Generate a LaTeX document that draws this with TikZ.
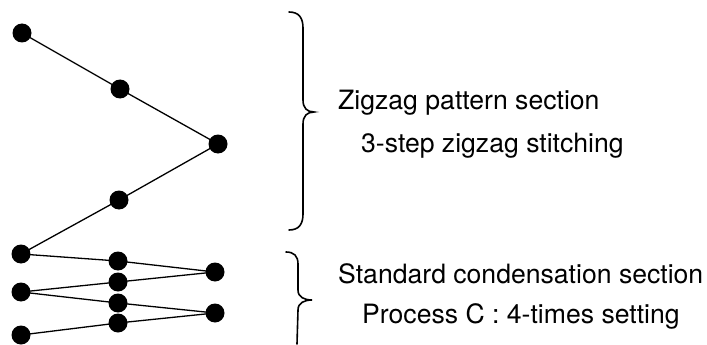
\documentclass[tikz,border=0pt]{standalone}
\usepackage{fontspec}
\setmainfont{TeX Gyre Heros}
\usetikzlibrary{positioning}

\begin{document}
\begin{tikzpicture}[x=1pt, y=-1pt,
    dot/.style={circle, fill=black, inner sep=0pt, minimum size=19pt},
    caption/.style={anchor=base west, inner sep=0pt, font=\fontsize{26.6}{32}\selectfont},
    stitch/.style={line width=1.3pt},
    bracket/.style={line width=1.6pt, line cap=round}]
    \useasboundingbox (0,0) rectangle (707,345);
    % Nodes (zigzag section)
    \node (z1) [dot] at (22,33) {};
    \node (z2) [dot] at (120,89) {};
    \node (z3) [dot] at (218,144) {};
    \node (z4) [dot] at (119,200) {};
    % Nodes (condensation section)
    \node (c1) [dot] at (21,254) {};
    \node (c2) [dot] at (118,261) {};
    \node (c3) [dot] at (215,272) {};
    \node (c4) [dot] at (118,282) {};
    \node (c5) [dot] at (21,292) {};
    \node (c6) [dot] at (118,303) {};
    \node (c7) [dot] at (215,313) {};
    \node (c8) [dot] at (118,323) {};
    \node (c9) [dot] at (21,335) {};

    % Stitches
    \draw [stitch] (z1.center) -- (z2.center) -- (z3.center) -- (z4.center) -- (c1.center);
    \draw [stitch] (c1.center) -- (c2.center) -- (c3.center) -- (c4.center) -- (c5.center)
        -- (c6.center) -- (c7.center) -- (c8.center) -- (c9.center);

    % Braces
    \draw [bracket] (289,12) .. controls (299,12) and (303,18) .. (303,28) -- (303,100)
        .. controls (303,108) and (307,112) .. (314,112)
        .. controls (307,112) and (303,116) .. (303,124) -- (303,214)
        .. controls (303,224) and (299,230) .. (289,230);
    \draw [bracket] (286,252) .. controls (294,252) and (298,256) .. (298,264) -- (298,290)
        .. controls (298,297) and (304,300) .. (312,300)
        .. controls (304,300) and (298,303) .. (298,310) -- (297,344);

    % Labels
    \node (zigzag) [caption] at (338,110) {Zigzag pattern section};
    \node (zigzagsub) [caption] at (361,152) {3-step zigzag stitching};
    \node (cond) [caption] at (338,283) {Standard condensation section};
    \node (condsub) [caption] at (362,323) {Process C : 4-times setting};
\end{tikzpicture}
\end{document}
